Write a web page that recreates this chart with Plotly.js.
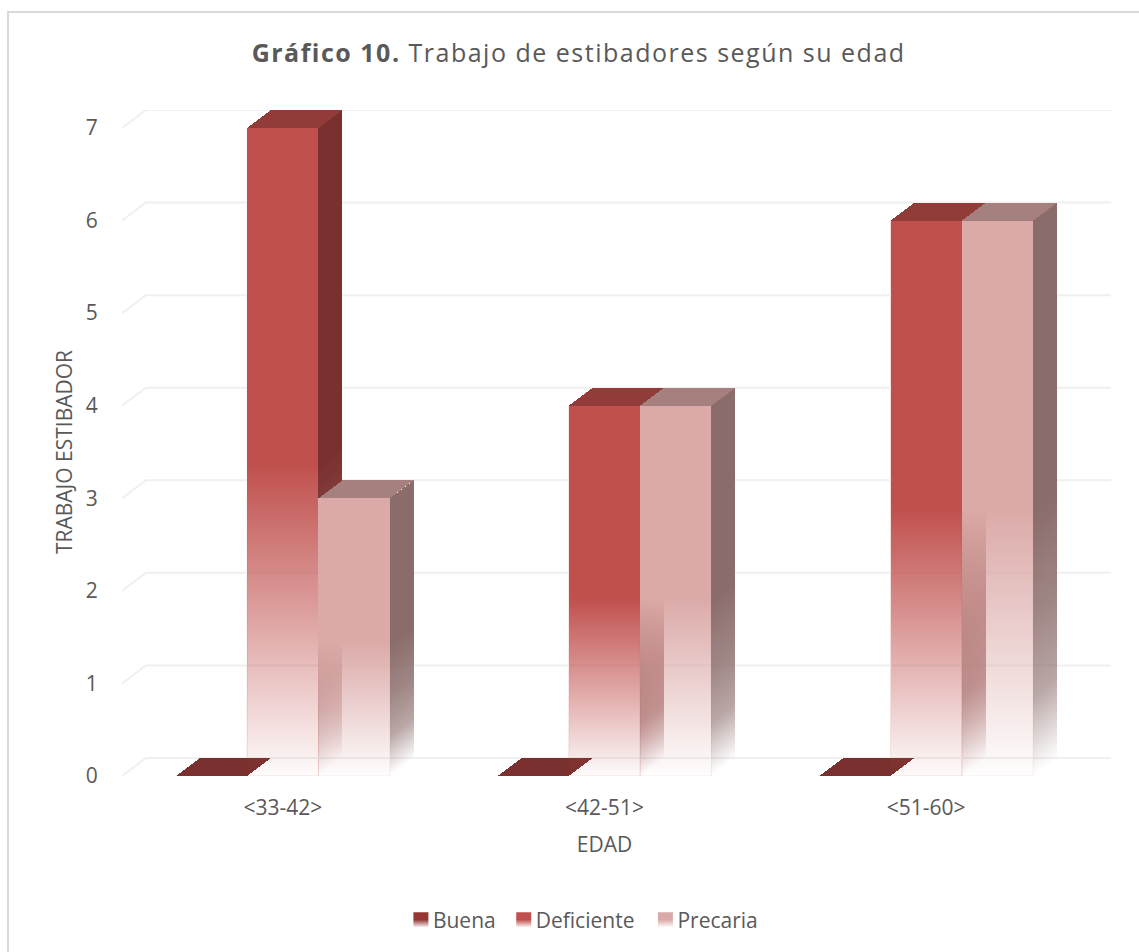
<!DOCTYPE html>
<html><head><meta charset="utf-8">
<script src="https://cdn.plot.ly/plotly-3.0.1.min.js"></script>
<style>
html,body{margin:0;padding:0;background:#fff;overflow:hidden}
#frame{position:absolute;left:7px;top:11px;width:1132px;height:941px;border-left:2px solid #D9D9D9;border-top:2px solid #D9D9D9;box-sizing:border-box;pointer-events:none;z-index:5}
#chart{position:absolute;left:0;top:0;width:1139px;height:952px}
.gtitle{letter-spacing:1.5px}
.scatterlayer .js-fill{shape-rendering:crispEdges}
</style></head><body>
<div id="chart"></div><div id="frame"></div>
<script>
// data
const categories = ['&lt;33-42&gt;', '&lt;42-51&gt;', '&lt;51-60&gt;'];
const yTicks = [0, 1, 2, 3, 4, 5, 6, 7];
const buena = [0, 0, 0];
const deficiente = [7, 4, 6];
const precaria = [3, 4, 6];

// look
const barW = 0.2217, depthX = 0.0746, depthY = 0.1944, fadeShare = 0.48, slices = 12;
const xs = categories.map((_, i) => i);
const C = {
  buena: {top:'122,48,46', key:'#953735'},
  def:   {front:'192,80,77', top:'145,60,57', side:'122,48,46', key:'#C0504D'},
  prec:  {front:'219,170,168', top:'166,128,126', side:'138,108,106', key:'#DBA9A8'}
};
const frontScale = c => [[0,`rgba(${c},0.02)`],[0.5,`rgba(${c},0.52)`],[1,`rgba(${c},1)`]];
const sideScale  = c => [[0,`rgba(${c},0)`],[0.3,`rgba(${c},0.6)`],[0.6,`rgba(${c},0.82)`],[1,`rgba(${c},1)`]];

const traces = [];
function poly(x, y, extra){
  traces.push(Object.assign({type:'scatter', mode:'lines', xaxis:'x2', yaxis:'y2', x, y, fill:'toself', line:{width:0},
    hoverinfo:'skip', showlegend:false}, extra));
}
// data carriers on the front-plane axes, giving the edge of each bar and the legend
[['Buena',buena,-1.5,'122,48,46'],['Deficiente',deficiente,-0.5,'192,80,77'],['Precaria',precaria,0.5,'219,170,168']].forEach(s => {
  traces.push({type:'bar', name:s[0], x:xs, y:s[1], width:barW, offset:s[2]*barW, hoverinfo:'x+y+name',
    marker:{color:`rgba(${s[3]},0)`, line:{color:`rgba(${s[3]},0.18)`, width:1}}});
});
// back-wall gridlines with their floor-side return
yTicks.forEach(t => traces.push({type:'scatter', mode:'lines', xaxis:'x2', yaxis:'y2', hoverinfo:'skip', showlegend:false,
  x:[-0.5, -0.5+depthX, 2.5+depthX], y:[t, t+depthY, t+depthY], line:{color:'#F0F0F0', width:2}}));
function drawSeries(vals, off, c){
  vals.forEach((v,i) => {
    const x0 = xs[i]+off*barW, x1 = x0+barW;
    // side face, cut in slices so that the fade follows the depth
    for(let k=0;k<slices;k++){
      const a=k/slices, b=(k+1)/slices, m=(a+b)/2*depthY;
      poly([x1+a*depthX,x1+b*depthX,x1+b*depthX,x1+a*depthX,x1+a*depthX],
           [a*depthY,b*depthY,v+b*depthY,v+a*depthY,a*depthY],
           {fillgradient:{type:'vertical',start:m,stop:m+fadeShare*v,colorscale:sideScale(c.side)}});
    }
    // top face
    poly([x0,x1,x1+depthX,x0+depthX,x0],[v,v,v+depthY,v+depthY,v],{fillcolor:`rgb(${c.top})`});
    // front face
    poly([x0,x1,x1,x0,x0],[0,0,v,v,0],
      {fillgradient:{type:'vertical',start:0,stop:fadeShare*v,colorscale:frontScale(c.front)}});
  });
}
// zero-height series: only its top shows
buena.forEach((v,i)=>{const x0=xs[i]-1.5*barW,x1=x0+barW;
  poly([x0,x1,x1+depthX,x0+depthX,x0],[v,v,v+depthY,v+depthY,v],{fillcolor:`rgb(${C.buena.top})`});});
drawSeries(deficiente,-0.5,C.def);
drawSeries(precaria,0.5,C.prec);

const font = {family:'"Open Sans", sans-serif', color:'#595959'};
const txt = s => Object.assign({},font,{size:s});
const layout = {
  width:1139, height:952, paper_bgcolor:'#fff', plot_bgcolor:'rgba(0,0,0,0)',
  margin:{l:122,r:28,t:110,b:176,pad:0,autoexpand:false}, barmode:'overlay', showlegend:true,
  title:{text:'<b>Gráfico 10.</b> Trabajo de estibadores según su edad', x:0.508, xanchor:'center', y:0.944, yanchor:'middle', font:txt(25)},
  xaxis:{domain:[0,3/(3+depthX)], range:[-0.5,2.5], tickmode:'array', tickvals:xs, ticktext:categories, showgrid:false, zeroline:false, showline:false,
    ticks:'outside', ticklen:13, tickcolor:'rgba(0,0,0,0)', tickfont:txt(21),
    title:{text:'EDAD', standoff:17, font:txt(21)}},
  yaxis:{domain:[0,7/(7+depthY)], range:[0,7], tickmode:'array', tickvals:yTicks, showgrid:false, zeroline:false, showline:false,
    ticks:'outside', ticklen:19, tickcolor:'rgba(0,0,0,0)', tickfont:txt(21),
    title:{text:'TRABAJO ESTIBADOR', standoff:7, font:txt(21)}},
  xaxis2:{domain:[0,1], range:[-0.5,2.5+depthX], visible:false, anchor:'y2', fixedrange:true},
  yaxis2:{domain:[0,1], range:[0,7+depthY], visible:false, anchor:'x2', fixedrange:true},
  legend:{orientation:'h', x:0.28, xanchor:'left', y:-0.1855, yanchor:'top', font:txt(21), traceorder:'normal', bgcolor:'rgba(0,0,0,0)'}
};
const legendShift = [-6, -11, -13];
Plotly.newPlot('chart',traces,layout,{displayModeBar:false,responsive:false}).then(gd=>{
  const svg = gd.querySelector('svg.main-svg');
  const defs = svg.querySelector('defs');
  const NS='http://www.w3.org/2000/svg';
  const keys=[C.buena.key,C.def.key,C.prec.key];
  gd.querySelectorAll('.legend .traces').forEach((tr,i)=>{
    const g=document.createElementNS(NS,'linearGradient');
    g.setAttribute('id','legkey'+i);g.setAttribute('x1','0');g.setAttribute('y1','0');g.setAttribute('x2','0');g.setAttribute('y2','1');
    [[0,1],[0.5,1],[1,0.05]].forEach(p=>{const st=document.createElementNS(NS,'stop');
      st.setAttribute('offset',p[0]);st.setAttribute('stop-color',keys[i]);st.setAttribute('stop-opacity',p[1]);g.appendChild(st);});
    defs.appendChild(g);
    const p=tr.querySelector('.legendpoints path');
    if(p){p.setAttribute('d','M15.5,7.5H0.5V-7.5H15.5Z');p.style.setProperty('fill','url(#legkey'+i+')');p.style.setProperty('fill-opacity','1');p.style.setProperty('stroke-width','0');}
    const m=/translate\(([-\d.]+)[ ,]+([-\d.]+)\)/.exec(tr.getAttribute('transform')||'');
    if(m) tr.setAttribute('transform',`translate(${parseFloat(m[1])+legendShift[i]},${m[2]})`);
  });
});
</script>
</body></html>
